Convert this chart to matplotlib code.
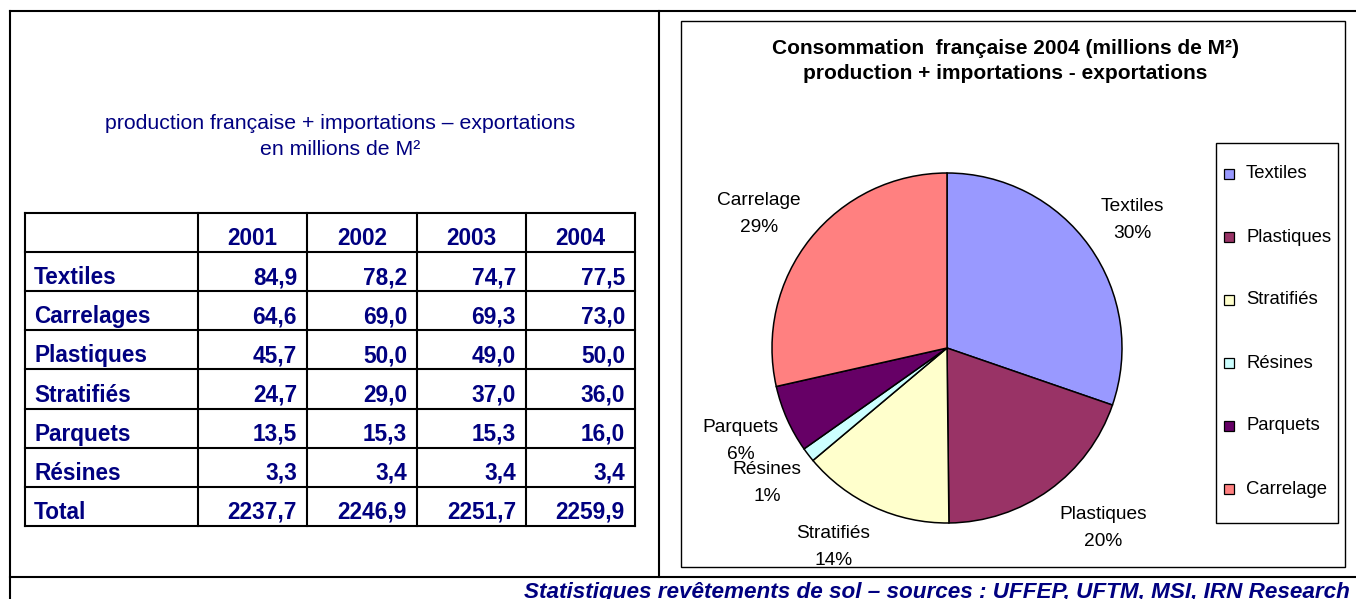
import matplotlib
matplotlib.use("Agg")
import matplotlib.pyplot as plt
from matplotlib.patches import Rectangle

plt.rcParams['font.family'] = ['Liberation Sans', 'DejaVu Sans']

# ---------------- data ----------------
years = ["2001", "2002", "2003", "2004"]
row_labels = ["Textiles", "Carrelages", "Plastiques", "Stratifiés", "Parquets", "Résines", "Total"]
textiles = [84.9, 78.2, 74.7, 77.5]
carrelages = [64.6, 69.0, 69.3, 73.0]
plastiques = [45.7, 50.0, 49.0, 50.0]
stratifies = [24.7, 29.0, 37.0, 36.0]
parquets = [13.5, 15.3, 15.3, 16.0]
resines = [3.3, 3.4, 3.4, 3.4]
total = [2237.7, 2246.9, 2251.7, 2259.9]
table_rows = [textiles, carrelages, plastiques, stratifies, parquets, resines, total]

pie_categories = ["Textiles", "Plastiques", "Stratifiés", "Résines", "Parquets", "Carrelage"]
pie_values = [77.5, 50.0, 36.0, 3.4, 16.0, 73.0]
pie_colors = ["#9999FF", "#993366", "#FFFFCC", "#CCFFFF", "#660066", "#FF8080"]

subtitle = "production française + importations – exportations\nen millions de M²"
pie_title = "Consommation  française 2004 (millions de M²)\nproduction + importations - exportations"
footer = "Statistiques revêtements de sol – sources : UFFEP, UFTM, MSI, IRN Research"

NAVY = "#000080"
W, H = 1356, 599

fig = plt.figure(figsize=(W / 100, H / 100), dpi=100)
fig.patch.set_facecolor("white")

# overlay axes in pixel coordinates
ax = fig.add_axes([0, 0, 1, 1])
ax.set_xlim(0, W)
ax.set_ylim(H, 0)
ax.axis("off")

lw_thick = 1.5
# outer frame
ax.plot([9.5, W], [11, 11], color="black", lw=lw_thick)
ax.plot([9.5, 9.5], [11, H], color="black", lw=lw_thick)
ax.plot([9.5, W], [577, 577], color="black", lw=lw_thick)
ax.plot([659, 659], [11, 577], color="black", lw=lw_thick)

# subtitle (baseline of last line)
ax.text(340, 155, subtitle, ha="center", va="baseline", color=NAVY,
        fontsize=15.3, linespacing=1.45)

# table
col_edges = [25, 198, 307, 417, 526, 635]
row_top = 213
row_h = 39.1
n_rows = len(row_labels) + 1
for i in range(n_rows + 1):
    y = row_top + i * row_h
    ax.plot([col_edges[0], col_edges[-1]], [y, y], color="black", lw=lw_thick,
            solid_capstyle="projecting")
for x in col_edges:
    ax.plot([x, x], [row_top, row_top + n_rows * row_h], color="black", lw=lw_thick,
            solid_capstyle="projecting")

tfs = 16.3
for j, yr in enumerate(years):
    xc = (col_edges[j + 1] + col_edges[j + 2]) / 2
    ax.text(xc, row_top + row_h - 7, yr, ha="center", va="baseline",
            fontsize=tfs, fontweight="bold", color=NAVY)
for i, (lab, vals) in enumerate(zip(row_labels, table_rows)):
    yb = row_top + (i + 2) * row_h - 7
    ax.text(col_edges[0] + 9, yb, lab, ha="left", va="baseline",
            fontsize=tfs, fontweight="bold", color=NAVY)
    for j, v in enumerate(vals):
        ax.text(col_edges[j + 2] - 10, yb, f"{v:.1f}".replace(".", ","),
                ha="right", va="baseline", fontsize=tfs, fontweight="bold", color=NAVY)

# chart panel frame
ax.add_patch(Rectangle((681, 21), 1345 - 681, 567 - 21, fill=False,
                       edgecolor="black", lw=1.0))
ax.text(1005, 79, pie_title, ha="center", va="baseline", fontsize=15.0,
        fontweight="bold", color="black", linespacing=1.42)

# legend (manual, Excel-like)
ax.add_patch(Rectangle((1216, 143), 1338 - 1216, 523 - 143, fill=False,
                       edgecolor="black", lw=1.0))
for i, (cat, col) in enumerate(zip(pie_categories, pie_colors)):
    yc = 174 + i * 63
    ax.add_patch(Rectangle((1224, yc - 5), 10, 10, facecolor=col,
                           edgecolor="black", lw=0.9))
    ax.text(1246, yc, cat, ha="left", va="center", fontsize=13.3, color="black")

# footer (clipped at the bottom edge as in the original)
ax.text(1350, 598, footer, ha="right", va="baseline", fontsize=16.2,
        fontweight="bold", fontstyle="italic", color=NAVY)

# pie
cx, cy, r = 947, 348, 175
pax = fig.add_axes([(cx - r) / W, 1 - (cy + r) / H, 2 * r / W, 2 * r / H])
tot = sum(pie_values)
labels = [f"{c}\n{round(v / tot * 100)}%" for c, v in zip(pie_categories, pie_values)]
wedges, texts = pax.pie(pie_values, colors=pie_colors, startangle=90,
                        counterclock=False, labels=labels, labeldistance=1.32,
                        wedgeprops=dict(edgecolor="black", linewidth=1.1),
                        textprops=dict(fontsize=13.8, color="black"))
# small Excel-like nudges of the label positions (pixels, y downwards)
label_nudges = [(-3, 6), (21, -7), (-17, -11), (3, -6), (5, -1), (-8, 10)]
for t, (dx, dy) in zip(texts, label_nudges):
    t.set_ha("center")
    t.set_va("center")
    t.set_linespacing(1.75)
    x0, y0 = t.get_position()
    t.set_position((x0 + dx / r, y0 - dy / r))
pax.set_xlim(-1, 1)
pax.set_ylim(-1, 1)
pax.set_aspect("equal")

fig.savefig("out.png", dpi=100, facecolor="white")
